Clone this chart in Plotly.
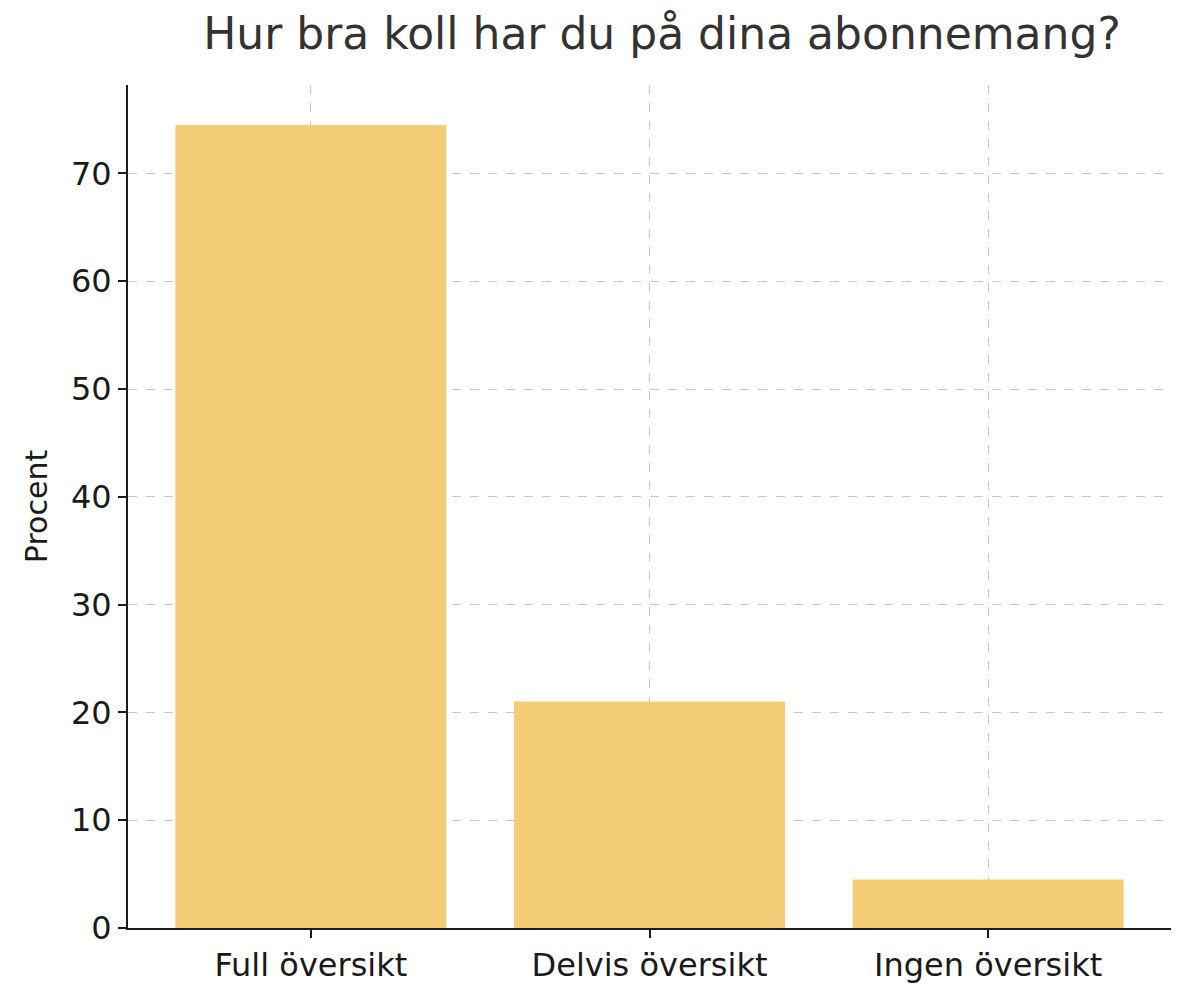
import plotly.graph_objects as go

categories = ["Full översikt", "Delvis översikt", "Ingen översikt"]
values = [74.5, 21.0, 4.5]

fig = go.Figure()
fig.add_trace(go.Bar(x=[0, 1, 2], y=values, width=0.8,
                     marker=dict(color="#f5cc76", line=dict(width=0))))

fig.update_layout(
    width=1200, height=1000,
    margin=dict(l=120, r=37, t=77, b=80),
    plot_bgcolor="white", paper_bgcolor="white",
    font=dict(family="DejaVu Sans", color="#1a1a1a", size=32),
    title=dict(text="Hur bra koll har du på dina abonnemang?", x=0.545, xanchor="center",
               y=0.99, yanchor="top", font=dict(size=44, color="#333333")),
    showlegend=False,
)
fig.update_xaxes(
    tickmode="array", tickvals=[0, 1, 2], ticktext=categories,
    range=[-0.54, 2.54], showline=True, linecolor="#1a1a1a", linewidth=2,
    ticks="outside", ticklen=8, tickwidth=2, tickcolor="#1a1a1a",
    showgrid=True, gridcolor="#c8c8c8", griddash="dash", gridwidth=1,
    zeroline=False, layer="above traces",
)
fig.update_yaxes(
    range=[0, 78.2], tickvals=[0, 10, 20, 30, 40, 50, 60, 70],
    title=dict(text="Procent", font=dict(size=30), standoff=14),
    showline=True, linecolor="#1a1a1a", linewidth=2,
    ticks="outside", ticklen=8, tickwidth=2, tickcolor="#1a1a1a",
    showgrid=True, gridcolor="#c8c8c8", griddash="dash", gridwidth=1,
    zeroline=False, layer="above traces",
)

fig.write_html("out.html")
